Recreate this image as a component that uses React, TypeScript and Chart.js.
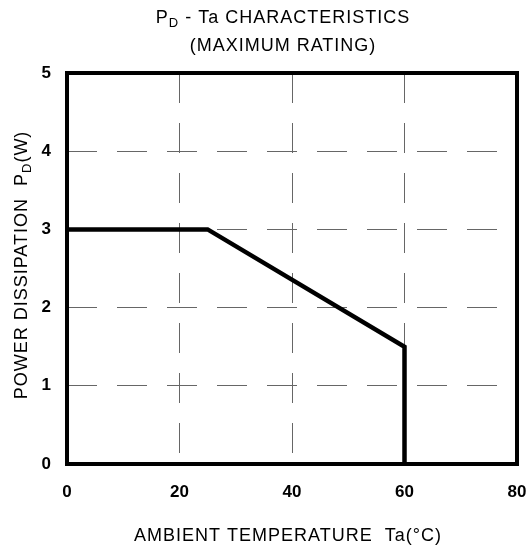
import React, { useEffect, useRef } from "react";
import { Chart, registerables } from "chart.js";

Chart.register(...registerables);

const tempPoints = [0, 25, 60, 60];
const powerPoints = [3, 3, 1.5, 0];
const xTicks = [0, 20, 40, 60, 80];
const yTicks = [0, 1, 2, 3, 4, 5];

const FONT = "'Liberation Sans', Arial, sans-serif";

const textPlugin = {
  id: "textPlugin",
  afterDraw(chart: any) {
    const ctx = chart.ctx as CanvasRenderingContext2D;
    const a = chart.chartArea;
    ctx.save();
    ctx.strokeStyle = "#000";
    ctx.lineWidth = 4;
    ctx.strokeRect(a.left, a.top, a.right - a.left, a.bottom - a.top);

    ctx.fillStyle = "#000";
    ctx.textBaseline = "middle";
    (ctx as any).letterSpacing = "1px";

    const drawSegs = (segs: { t: string; sub?: boolean }[], cx: number, cy: number, size: number) => {
      const subSize = Math.round(size * 0.7);
      let total = 0;
      const widths = segs.map((s) => {
        ctx.font = `${s.sub ? subSize : size}px ${FONT}`;
        const w = ctx.measureText(s.t).width;
        total += w;
        return w;
      });
      let x = cx - total / 2;
      ctx.textAlign = "left";
      segs.forEach((s, i) => {
        ctx.font = `${s.sub ? subSize : size}px ${FONT}`;
        ctx.fillText(s.t, x, s.sub ? cy + size * 0.3 : cy);
        x += widths[i];
      });
    };

    drawSegs(
      [{ t: "P" }, { t: "D", sub: true }, { t: " - Ta CHARACTERISTICS" }],
      283,
      18,
      18
    );
    drawSegs([{ t: "(MAXIMUM RATING)" }], 283, 46, 18);

    drawSegs([{ t: "AMBIENT TEMPERATURE  Ta(°C)" }], 288, 536, 18);

    ctx.save();
    ctx.translate(22, 265);
    ctx.rotate(-Math.PI / 2);
    drawSegs(
      [{ t: "POWER DISSIPATION  P" }, { t: "D", sub: true }, { t: "(W)" }],
      0,
      0,
      18
    );
    ctx.restore();
    ctx.restore();
  },
};

export default function App() {
  const ref = useRef<HTMLCanvasElement>(null);
  useEffect(() => {
    if (!ref.current) return;
    const chart = new Chart(ref.current, {
      type: "line",
      data: {
        datasets: [
          {
            data: tempPoints.map((x, i) => ({ x, y: powerPoints[i] })),
            borderColor: "#000",
            borderWidth: 4.5,
            pointRadius: 0,
            fill: false,
            tension: 0,
            borderJoinStyle: "miter",
          },
        ],
      },
      options: {
        animation: false,
        responsive: false,
        devicePixelRatio: 1,
        layout: { padding: { left: 0, right: 15, top: 73, bottom: 0 } },
        plugins: {
          legend: { display: false },
          tooltip: { enabled: false },
          title: { display: false },
        },
        scales: {
          x: {
            type: "linear",
            min: 0,
            max: 80,
            afterBuildTicks: (s: any) => {
              s.ticks = xTicks.map((v) => ({ value: v }));
            },
            afterFit: (s: any) => {
              s.height = 84;
              s.paddingLeft = 0;
              s.paddingRight = 0;
            },
            ticks: {
              color: "#000",
              font: { family: FONT, size: 17, weight: "bold" },
              padding: 18,
              maxRotation: 0,
            },
            grid: {
              color: (c: any) =>
                c.tick && (c.tick.value === 0 || c.tick.value === 80) ? "rgba(0,0,0,0)" : "#666",
              lineWidth: 1,
              drawTicks: false,
            },
            border: { display: false, dash: [30, 20] },
          },
          y: {
            type: "linear",
            min: 0,
            max: 5,
            afterBuildTicks: (s: any) => {
              s.ticks = yTicks.map((v) => ({ value: v }));
            },
            afterFit: (s: any) => {
              s.width = 67;
              s.paddingTop = 0;
              s.paddingBottom = 0;
            },
            ticks: {
              color: "#000",
              font: { family: FONT, size: 17, weight: "bold" },
              padding: 16,
            },
            grid: {
              color: (c: any) =>
                c.tick && (c.tick.value === 0 || c.tick.value === 5) ? "rgba(0,0,0,0)" : "#666",
              lineWidth: 1,
              drawTicks: false,
            },
            border: { display: false, dash: [30, 20] },
          },
        },
      },
      plugins: [textPlugin],
    } as any);
    return () => chart.destroy();
  }, []);
  return (
    <div style={{ position: "fixed", left: 0, top: 0, width: 532, height: 548, background: "#fff" }}>
      <canvas ref={ref} width={532} height={548} style={{ width: 532, height: 548 }} />
    </div>
  );
}
